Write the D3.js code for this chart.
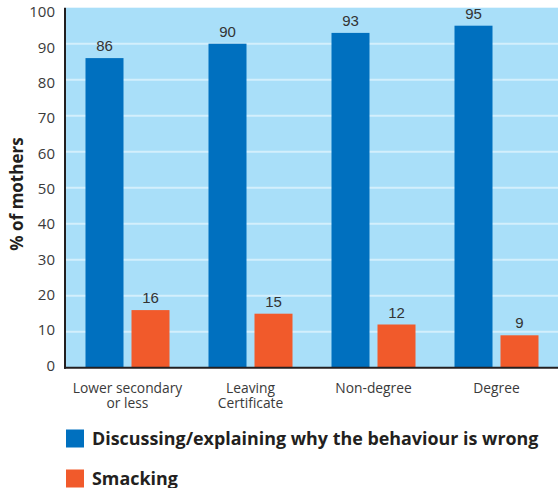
<!DOCTYPE html>
<html lang="en">
<head>
  <meta charset="UTF-8">
  <title>Discipline methods by mother's education</title>
  <script src="https://d3js.org/d3.v7.min.js"></script>
  <style>
    body { margin: 0; background: #fff; font-family: "Open Sans", "Noto Sans", sans-serif; }
    .tick text { fill: #3a3a3a; }
  </style>
</head>
<body>
  <div id="chart"></div>
  <script>
    const categories = [["Lower secondary", "or less"], ["Leaving", "Certificate"], ["Non-degree"], ["Degree"]];
    const seriesNames = ["Discussing/explaining why the behaviour is wrong", "Smacking"];
    const discussing = [86, 90, 93, 95];
    const smacking = [16, 15, 12, 9];
    const yTicks = [0, 10, 20, 30, 40, 50, 60, 70, 80, 90, 100];
    const colors = ["#0070bf", "#f15a2b"];

    const W = 559, H = 488;
    const plotLeft = 66, plotRight = 558, plotTop = 7.7, plotBottom = 367.7;

    const svg = d3.select("#chart").append("svg")
      .attr("width", W)
      .attr("height", H);

    const keys = categories.map(c => c.join(" "));
    const x = d3.scaleBand().domain(keys).range([plotLeft, plotRight]).padding(0);
    const bw = x.bandwidth();
    const x1 = d3.scaleBand().domain([0, 1]).range([bw / 2 - 42, bw / 2 + 42]).paddingInner(8 / 46);
    const y = d3.scaleLinear().domain([0, 100]).range([plotBottom, plotTop]);
    // tick labels sit a touch inside the gridline span in the original
    const yLab = d3.scaleLinear().domain([0, 100]).range([plotBottom - 2.4, plotTop + 4.3]);

    // plot background
    svg.append("rect")
      .attr("x", plotLeft).attr("y", plotTop)
      .attr("width", plotRight - plotLeft).attr("height", plotBottom - plotTop)
      .attr("fill", "#a9dff9");

    // gridlines
    svg.append("g").selectAll("line")
      .data(yTicks.filter(d => d > 0 && d < 100))
      .enter().append("line")
      .attr("x1", plotLeft).attr("x2", plotRight)
      .attr("y1", d => y(d)).attr("y2", d => y(d))
      .attr("stroke", "#d3effc")
      .attr("stroke-width", 2);

    const rows = keys.map((k, i) => ({ key: k, values: [discussing[i], smacking[i]] }));

    const groups = svg.append("g").selectAll("g")
      .data(rows)
      .enter().append("g")
      .attr("transform", d => `translate(${x(d.key)},0)`);

    groups.selectAll("rect")
      .data(d => d.values.map((v, j) => ({ v, j })))
      .enter().append("rect")
      .attr("x", d => x1(d.j))
      .attr("y", d => y(d.v))
      .attr("width", x1.bandwidth())
      .attr("height", d => plotBottom - y(d.v))
      .attr("fill", d => colors[d.j]);

    groups.selectAll("text")
      .data(d => d.values.map((v, j) => ({ v, j })))
      .enter().append("text")
      .attr("x", d => x1(d.j) + x1.bandwidth() / 2)
      .attr("y", d => y(d.v) - 7)
      .attr("text-anchor", "middle")
      .attr("font-family", "'Liberation Sans Narrow', 'Liberation Sans', sans-serif")
      .attr("font-size", 15)
      .attr("fill", "#333")
      .text(d => d.v);

    // y axis
    const yAxis = svg.append("g")
      .attr("transform", `translate(${plotLeft - 1},0)`)
      .call(d3.axisLeft(yLab).tickValues(yTicks).tickSize(0).tickPadding(10));
    yAxis.select(".domain").remove();
    yAxis.selectAll("text").attr("font-size", 15).attr("font-family", "'Open Sans', sans-serif");

    svg.append("line")
      .attr("x1", plotLeft - 1).attr("x2", plotLeft - 1)
      .attr("y1", plotTop).attr("y2", plotBottom + 1)
      .attr("stroke", "#231f20").attr("stroke-width", 2);
    svg.append("line")
      .attr("x1", plotLeft - 2).attr("x2", plotRight)
      .attr("y1", plotBottom).attr("y2", plotBottom)
      .attr("stroke", "#231f20").attr("stroke-width", 2);

    // x labels, one text per line
    const xLines = [];
    categories.forEach((lines, i) => lines.forEach((t, k) => xLines.push({ key: keys[i], t, k })));
    svg.append("g").selectAll("text")
      .data(xLines)
      .enter().append("text")
      .attr("x", d => x(d.key) + bw / 2)
      .attr("y", d => plotBottom + 25.5 + d.k * 15)
      .attr("text-anchor", "middle")
      .attr("font-size", 13.8)
      .attr("fill", "#3a3a3a")
      .text(d => d.t);

    // y title
    svg.append("text")
      .attr("transform", "translate(23,194) rotate(-90)")
      .attr("text-anchor", "middle")
      .attr("font-size", 17)
      .attr("font-weight", "bold")
      .attr("fill", "#231f20")
      .text("% of mothers");

    // legend
    const lg = svg.append("g").selectAll("g")
      .data(seriesNames)
      .enter().append("g")
      .attr("transform", (d, i) => `translate(66,${429.5 + i * 40})`);
    lg.append("rect")
      .attr("width", 18).attr("height", 18)
      .attr("fill", (d, i) => colors[i]);
    lg.append("text")
      .attr("x", 26).attr("y", 15)
      .attr("font-size", 17.9)
      .attr("font-weight", "bold")
      .attr("fill", "#231f20")
      .text(d => d);
  </script>
</body>
</html>
